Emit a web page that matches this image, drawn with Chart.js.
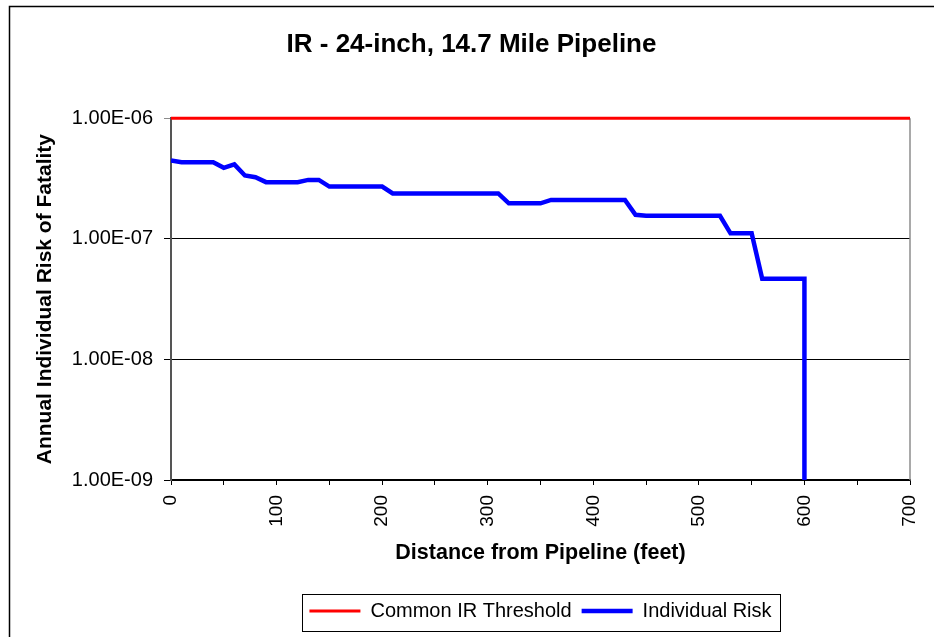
<!DOCTYPE html>
<html>
<head>
<meta charset="utf-8">
<title>IR - 24-inch, 14.7 Mile Pipeline</title>
<script src="https://cdn.jsdelivr.net/npm/chart.js@4.4.0/dist/chart.umd.min.js"></script>
<style>
    html, body { margin: 0; padding: 0; background: #fff; }
    #wrap { width: 934px; height: 637px; }
</style>
</head>
<body>
<div id="wrap"><canvas id="ir-chart" width="934" height="637"></canvas></div>
<script>
// Chart data
const thresholdDistance = [0, 700];
const thresholdRisk = [1e-6, 1e-6];

const riskDistance = [0, 10, 20, 30, 40, 50, 60, 70, 80, 90,
    100, 110, 120, 130, 140, 150, 160, 170, 180, 190,
    200, 210, 220, 230, 240, 250, 260, 270, 280, 290,
    300, 310, 320, 330, 340, 350, 360, 370, 380, 390,
    400, 410, 420, 430, 440, 450, 460, 470, 480, 490,
    500, 510, 520, 530, 540, 550, 560, 570, 580, 590,
    600, 600];
const individualRisk = [4.47e-7, 4.32e-7, 4.32e-7, 4.32e-7, 4.32e-7, 3.88e-7, 4.14e-7, 3.35e-7, 3.24e-7, 2.95e-7,
    2.95e-7, 2.95e-7, 2.95e-7, 3.08e-7, 3.08e-7, 2.71e-7, 2.71e-7, 2.71e-7, 2.71e-7, 2.71e-7,
    2.71e-7, 2.38e-7, 2.38e-7, 2.38e-7, 2.38e-7, 2.38e-7, 2.38e-7, 2.38e-7, 2.38e-7, 2.38e-7,
    2.38e-7, 2.38e-7, 1.97e-7, 1.97e-7, 1.97e-7, 1.97e-7, 2.10e-7, 2.10e-7, 2.10e-7, 2.10e-7,
    2.10e-7, 2.10e-7, 2.10e-7, 2.10e-7, 1.58e-7, 1.55e-7, 1.55e-7, 1.55e-7, 1.55e-7, 1.55e-7,
    1.55e-7, 1.55e-7, 1.55e-7, 1.11e-7, 1.11e-7, 1.11e-7, 4.67e-8, 4.67e-8, 4.67e-8, 4.67e-8,
    4.67e-8, 1e-9];

const yTicks = [1e-9, 1e-8, 1e-7, 1e-6];
const xTickLabels = [0, 100, 200, 300, 400, 500, 600, 700];

const FONT = "'Liberation Sans', Arial, sans-serif";

function toPoints(xs, ys) {
    return xs.map((x, i) => ({ x: x, y: ys[i] }));
}

// Excel style scientific label, e.g. 1.00E-06
function sciLabel(v) {
    const e = Math.round(Math.log10(v));
    const m = v / Math.pow(10, e);
    return m.toFixed(2) + 'E' + (e < 0 ? '-' : '+') + String(Math.abs(e)).padStart(2, '0');
}

function shiftBox(box, center) {
    const dx = center - (box.left + box.right) / 2;
    box.left += dx;
    box.right += dx;
}

// Outer frame, right plot edge, legend box, centring of title and legend
const framePlugin = {
    id: 'frame',
    afterLayout(chart) {
        // title centred in the outer frame, legend under the plot area
        shiftBox(chart.titleBlock, (9 + chart.width) / 2);
        shiftBox(chart.legend, (chart.chartArea.left + chart.chartArea.right) / 2);
    },
    beforeDraw(chart) {
        const ctx = chart.ctx;
        ctx.save();
        ctx.fillStyle = '#fff';
        ctx.fillRect(0, 0, chart.width, chart.height);
        ctx.strokeStyle = '#000';
        ctx.lineWidth = 1.5;
        ctx.strokeRect(9.5, 6.5, chart.width + 10, chart.height + 10);
        ctx.restore();
    },
    beforeDatasetsDraw(chart) {
        const a = chart.chartArea;
        const ctx = chart.ctx;
        ctx.save();
        ctx.strokeStyle = '#8c8c8c';
        ctx.lineWidth = 1.5;
        ctx.beginPath();
        ctx.moveTo(a.right, a.top);
        ctx.lineTo(a.right, a.bottom);
        ctx.stroke();
        ctx.restore();
    },
    afterDraw(chart) {
        const boxes = chart.legend.legendHitBoxes;
        if (!boxes || !boxes.length) return;
        const left = Math.min(...boxes.map(b => b.left)) - 7;
        const right = Math.max(...boxes.map(b => b.left + b.width)) + 9;
        const top = Math.min(...boxes.map(b => b.top)) - 7;
        const bottom = Math.max(...boxes.map(b => b.top + b.height)) + 10;
        const ctx = chart.ctx;
        ctx.save();
        ctx.strokeStyle = '#000';
        ctx.lineWidth = 1;
        ctx.strokeRect(Math.round(left) + 0.5, Math.round(top) + 0.5, Math.round(right - left), Math.round(bottom - top));
        ctx.restore();
    }
};

const chart = new Chart(document.getElementById('ir-chart').getContext('2d'), {
    type: 'line',
    data: {
        datasets: [{
            label: 'Common IR Threshold',
            data: toPoints(thresholdDistance, thresholdRisk),
            borderColor: '#ff0000',
            backgroundColor: '#ff0000',
            borderWidth: 3,
            pointRadius: 0,
            clip: 4
        }, {
            label: 'Individual Risk',
            data: toPoints(riskDistance, individualRisk),
            borderColor: '#0000ff',
            backgroundColor: '#0000ff',
            borderWidth: 4.5,
            pointRadius: 0,
            tension: 0
        }]
    },
    options: {
        responsive: false,
        animation: false,
        layout: { padding: { left: 0, right: 24, top: 0, bottom: 6 } },
        plugins: {
            title: {
                display: true,
                text: 'IR - 24-inch, 14.7 Mile Pipeline',
                color: '#000',
                font: { family: FONT, size: 26, weight: 'bold' },
                padding: { top: 29, bottom: 58 }
            },
            legend: {
                position: 'bottom',
                labels: {
                    color: '#000',
                    font: { family: FONT, size: 20 },
                    usePointStyle: true,
                    pointStyle: 'line',
                    pointStyleWidth: 51,
                    padding: 10
                }
            },
            tooltip: { enabled: false }
        },
        scales: {
            x: {
                type: 'linear',
                min: 0,
                max: 700,
                afterFit(scale) {
                    scale.height = 111;
                    scale.paddingLeft = 0;
                    scale.paddingRight = 0;
                },
                ticks: {
                    stepSize: 50,
                    autoSkip: false,
                    minRotation: 90,
                    maxRotation: 90,
                    padding: 10,
                    color: '#000',
                    font: { family: FONT, size: 19 },
                    callback: v => xTickLabels.includes(v) ? String(v) : ''
                },
                grid: { drawOnChartArea: false, color: '#000', tickLength: 5 },
                border: { color: '#000', width: 1.5 },
                title: {
                    display: true,
                    text: 'Distance from Pipeline (feet)',
                    color: '#000',
                    font: { family: FONT, size: 21.5, weight: 'bold' },
                    padding: { top: 0, bottom: 25 }
                }
            },
            y: {
                type: 'logarithmic',
                min: 1e-9,
                max: 1e-6,
                afterFit(scale) { scale.width = 171; },
                afterBuildTicks(scale) {
                    scale.ticks = yTicks.map(v => ({ value: v, major: true }));
                },
                ticks: {
                    padding: 11,
                    color: '#000',
                    font: { family: FONT, size: 20 },
                    callback: v => sciLabel(v)
                },
                grid: {
                    color: c => (c.tick && c.tick.value === 1e-6) ? '#8c8c8c' : '#000',
                    lineWidth: 1,
                    tickLength: 7
                },
                border: { color: '#555', width: 2 },
                title: {
                    display: true,
                    text: 'Annual Individual Risk of Fatality',
                    color: '#000',
                    font: { family: FONT, size: 21, weight: 'bold' },
                    padding: { top: 33, bottom: 0 }
                }
            }
        }
    },
    plugins: [framePlugin]
});
</script>
</body>
</html>
